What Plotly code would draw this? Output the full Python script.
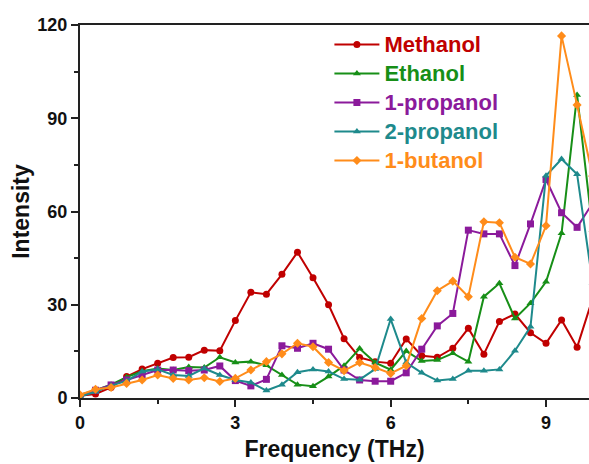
import plotly.graph_objects as go

# Frequency grid (THz), 0.3 THz steps
freq = [round(0.3 * i, 1) for i in range(34)]

methanol = [0.7, 1.3, 3.4, 6.9, 9.3, 11.2, 13.0, 13.1, 15.4, 15.2, 24.9, 34.0,
            33.4, 39.8, 46.9, 38.7, 30.0, 19.1, 13.0, 11.7, 11.2, 19.0, 13.6, 13.1,
            16.0, 22.4, 14.1, 24.6, 27.0, 21.0, 17.6, 25.1, 16.3, 32.0]
ethanol = [1.0, 2.5, 4.3, 6.7, 8.6, 9.5, 9.0, 10.0, 9.8, 13.1, 11.4, 11.7,
           10.5, 7.4, 4.3, 3.8, 6.9, 10.4, 15.9, 11.4, 9.1, 15.1, 11.9, 12.2,
           14.4, 11.7, 32.6, 36.9, 25.6, 30.5, 37.4, 53.0, 97.5, 54.0]
propanol1 = [0.5, 2.5, 4.2, 5.8, 7.4, 9.0, 9.0, 8.8, 9.0, 10.3, 5.6, 3.9,
             6.0, 16.8, 16.0, 17.6, 15.7, 9.0, 5.8, 5.4, 5.4, 8.1, 15.7, 23.2,
             27.2, 54.0, 52.8, 52.8, 42.6, 56.0, 70.3, 59.6, 54.9, 62.7]
propanol2 = [0.5, 2.0, 4.0, 5.5, 8.5, 9.2, 7.4, 7.1, 9.5, 7.4, 5.8, 5.0,
             2.4, 4.3, 8.3, 9.2, 8.5, 6.1, 5.9, 9.3, 25.4, 11.4, 8.1, 5.6,
             6.1, 8.8, 8.8, 9.2, 15.2, 22.9, 71.5, 76.9, 72.0, 37.0]
butanol1 = [1.0, 2.8, 3.4, 4.7, 5.8, 7.4, 6.3, 5.8, 6.5, 5.3, 6.3, 9.0,
            11.7, 14.2, 17.6, 16.5, 11.4, 8.8, 11.4, 9.8, 7.9, 10.4, 25.6, 34.5,
            37.6, 32.6, 56.7, 56.4, 45.3, 43.1, 55.4, 116.5, 94.3, 71.4]

series = [
    ("Methanol", methanol, "#C00000", "circle"),
    ("Ethanol", ethanol, "#178F17", "triangle-up"),
    ("1-propanol", propanol1, "#8B1A9B", "square"),
    ("2-propanol", propanol2, "#1E8A8C", "triangle-up"),
    ("1-butanol", butanol1, "#FF8C1A", "diamond"),
]

FONT = "Liberation Sans, Arial, sans-serif"

fig = go.Figure()
for name, vals, color, sym in series:
    fig.add_trace(go.Scatter(
        x=freq, y=vals, mode="lines+markers",
        # legend text a little larger than the row pitch set by legend.font
        name=f"<b><span style='color:{color};font-size:22px'>{name}</span></b>",
        legendgroup=name,
        line=dict(color=color, width=2),
        marker=dict(symbol=sym, size=7, color=color),
    ))

axis_font = dict(family=FONT, size=18, color="#111")
title_font = dict(family=FONT, size=23, color="#111")

fig.update_layout(
    width=589, height=464,
    margin=dict(l=80, r=0, t=25, b=66),
    paper_bgcolor="white", plot_bgcolor="white",
    showlegend=True,
    legend=dict(
        x=0.49, y=1.0, xanchor="left", yanchor="top",
        bgcolor="rgba(0,0,0,0)", borderwidth=0,
        font=dict(family=FONT, size=20),
        tracegroupgap=0, itemwidth=45,
    ),
    xaxis=dict(
        range=[0, 9.83], tickvals=[0, 3, 6, 9],
        ticktext=["<b>0</b>", "<b>3</b>", "<b>6</b>", "<b>9</b>"],
        ticks="outside", ticklen=7, tickwidth=2, tickcolor="#222",
        minor=dict(tickvals=[1.5, 4.5, 7.5], ticks="outside", ticklen=4, tickwidth=2, tickcolor="#222"),
        showline=True, linewidth=2, linecolor="#222", mirror=True,
        showgrid=False, zeroline=False,
        tickfont=axis_font,
        title=dict(text="<b>Frequency (THz)</b>", font=title_font, standoff=9),
    ),
    yaxis=dict(
        range=[0, 120], tickvals=[0, 30, 60, 90, 120],
        ticktext=["<b>0</b>", "<b>30</b>", "<b>60</b>", "<b>90</b>", "<b>120</b>"],
        ticks="outside", ticklen=7, tickwidth=2, tickcolor="#222",
        minor=dict(tickvals=[15, 45, 75, 105], ticks="outside", ticklen=4, tickwidth=2, tickcolor="#222"),
        showline=True, linewidth=2, linecolor="#222", mirror=False,
        showgrid=False, zeroline=False,
        tickfont=axis_font,
        title=dict(text="<b>Intensity</b>", font=title_font, standoff=1),
    ),
)

fig.write_html("out.html")
